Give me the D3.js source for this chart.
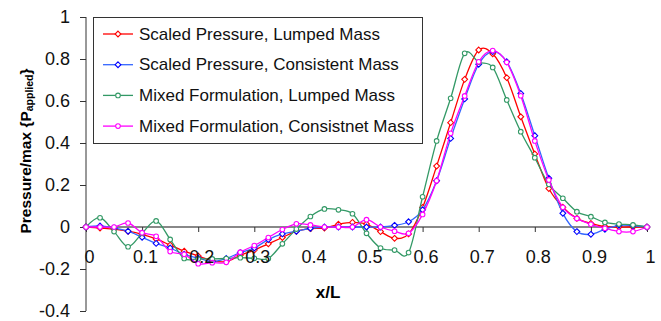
<!DOCTYPE html>
<html>
<head>
<meta charset="utf-8">
<script src="https://cdn.jsdelivr.net/npm/d3@7"></script>
<style>
  body { margin: 0; background: #fff; }
  svg { display: block; font-family: "Liberation Sans", Arial, Helvetica, sans-serif; }
</style>
</head>
<body>
<svg id="chart" width="661" height="321"></svg>
<script>
const xVals = [0, 0.025, 0.05, 0.075, 0.1, 0.125, 0.15, 0.175, 0.2, 0.225,
  0.25, 0.275, 0.3, 0.325, 0.35, 0.375, 0.4, 0.425, 0.45, 0.475,
  0.5, 0.525, 0.55, 0.575, 0.6, 0.625, 0.65, 0.675, 0.7, 0.725,
  0.75, 0.775, 0.8, 0.825, 0.85, 0.875, 0.9, 0.925, 0.95, 0.975, 1];

const scaledLumped = [0, -0.005, -0.01, -0.02, -0.035, -0.057, -0.086, -0.115, -0.138, -0.16,
  -0.165, -0.135, -0.11, -0.08, -0.05, -0.02, -0.008, -0.005, 0.013, 0.022,
  0.014, -0.022, -0.054, -0.033, 0.093, 0.29, 0.497, 0.703, 0.843, 0.825,
  0.711, 0.525, 0.348, 0.183, 0.094, 0.041, 0.017, 0.002, 0, 0, 0];

const scaledConsistent = [0, 0.005, -0.005, -0.02, -0.049, -0.078, -0.1, -0.13, -0.148, -0.165,
  -0.15, -0.122, -0.1, -0.06, -0.033, -0.02, -0.006, 0, 0, 0,
  0, 0, 0.008, 0.025, 0.082, 0.22, 0.422, 0.61, 0.775, 0.835,
  0.787, 0.636, 0.435, 0.232, 0.065, -0.022, -0.035, -0.011, 0.008, 0.006, 0];

const mixedLumped = [0, 0.044, -0.022, -0.094, -0.03, 0.029, -0.059, -0.15, -0.152, -0.152,
  -0.15, -0.146, -0.149, -0.15, -0.08, -0.01, 0.05, 0.086, 0.082, 0.063,
  -0.03, -0.1, -0.11, -0.122, 0.144, 0.41, 0.613, 0.827, 0.785, 0.76,
  0.605, 0.454, 0.33, 0.203, 0.137, 0.073, 0.049, 0.022, 0.014, 0.01, 0];

const mixedConsistent = [0, 0, 0, 0.019, -0.027, -0.044, -0.117, -0.13, -0.175, -0.17,
  -0.168, -0.12, -0.088, -0.05, -0.012, 0.015, 0.01, 0, 0, 0,
  0.035, 0, -0.02, -0.03, 0.06, 0.22, 0.446, 0.624, 0.787, 0.84,
  0.784, 0.625, 0.41, 0.224, 0.094, 0.041, 0.013, -0.006, -0.022, -0.022, 0];

const seriesNames = [
  "Scaled Pressure, Lumped Mass",
  "Scaled Pressure, Consistent Mass",
  "Mixed Formulation, Lumped Mass",
  "Mixed Formulation, Consistnet Mass",
];
const xTicks = [0, 0.1, 0.2, 0.3, 0.4, 0.5, 0.6, 0.7, 0.8, 0.9, 1];
const yTicks = [-0.4, -0.2, 0, 0.2, 0.4, 0.6, 0.8, 1];

const series = [
  { name: seriesNames[0], values: scaledLumped, line: "#ff0000", mark: "#ff0000", shape: "diamond" },
  { name: seriesNames[1], values: scaledConsistent, line: "#3366ff", mark: "#0000ff", shape: "diamond" },
  { name: seriesNames[2], values: mixedLumped, line: "#339966", mark: "#339966", shape: "circle" },
  { name: seriesNames[3], values: mixedConsistent, line: "#ff00ff", mark: "#ff00ff", shape: "circle" },
];

const svg = d3.select("#chart");

const x = d3.scaleLinear().domain([0, 1]).range([86, 647]);
const y = d3.scaleLinear().domain([-0.4, 1]).range([311, 17]);
const fmt = (d) => String(+d.toFixed(1));

// y axis
const yAxis = svg.append("g")
  .attr("transform", "translate(86,0)")
  .call(d3.axisLeft(y).tickValues(yTicks).tickSize(6).tickPadding(10).tickFormat(fmt));
yAxis.select(".domain").attr("stroke", "#333").attr("d", `M0,${y(-0.4)}V${y(1)}`);
yAxis.selectAll(".tick line").attr("stroke", "#333");
yAxis.selectAll("text").attr("font-size", 18).attr("fill", "#111");

// x axis line + ticks (under the curves)
const xAxis = svg.append("g")
  .attr("transform", `translate(0,${y(0)})`)
  .call(d3.axisBottom(x).tickValues(xTicks).tickSize(5).tickFormat(""));
xAxis.select(".domain").attr("stroke", "#888").attr("stroke-width", 2)
  .attr("d", `M${x(0)},0H${x(1)}`);
xAxis.selectAll(".tick line").attr("stroke", "#333");

// series
const line = d3.line()
  .curve(d3.curveCatmullRom.alpha(0))
  .x((d, i) => x(xVals[i]))
  .y((d) => y(d));

const diamond = (r) => `M0,${-r}L${r},0L0,${r}L${-r},0Z`;

series.forEach((s) => {
  const g = svg.append("g");
  g.append("path")
    .datum(s.values)
    .attr("d", line)
    .attr("fill", "none")
    .attr("stroke", s.line)
    .attr("stroke-width", 1.3);

  const pts = g.selectAll(".pt")
    .data(s.values)
    .join("g")
    .attr("transform", (d, i) => `translate(${x(xVals[i])},${y(d)})`);
  if (s.shape === "circle") {
    pts.append("circle").attr("r", 2.3);
  } else {
    pts.append("path").attr("d", diamond(2.9));
  }
  pts.selectAll("circle, path")
    .attr("fill", "#fff")
    .attr("stroke", s.mark)
    .attr("stroke-width", 1.1);
});

// x tick labels over the curves
const xLabels = svg.append("g")
  .attr("transform", `translate(0,${y(0)})`)
  .call(d3.axisBottom(x).tickValues(xTicks).tickSize(0).tickFormat(fmt));
xLabels.select(".domain").remove();
xLabels.selectAll("text")
  .attr("font-size", 18)
  .attr("fill", "#111")
  .attr("y", 30)
  .attr("dx", 3)
  .attr("dy", "0.35em");

// axis titles
svg.append("text")
  .attr("x", 328)
  .attr("y", 292)
  .attr("text-anchor", "middle")
  .attr("dominant-baseline", "central")
  .attr("font-size", 17)
  .attr("font-weight", "bold")
  .text("x/L");

const yTitle = svg.append("text")
  .attr("transform", "translate(25,151) rotate(-90)")
  .attr("text-anchor", "middle")
  .attr("dominant-baseline", "central")
  .attr("font-size", 15.5)
  .attr("font-weight", "bold");
yTitle.append("tspan").text("Pressure/max {P");
yTitle.append("tspan").attr("font-size", 10.5).attr("dy", 4).text("applied");
yTitle.append("tspan").attr("dy", -4).text("}");

// legend
const legend = svg.append("g");
legend.append("rect")
  .attr("x", 93.5)
  .attr("y", 17.5)
  .attr("width", 329)
  .attr("height", 126)
  .attr("fill", "#fff")
  .attr("stroke", "#333");

series.forEach((s, k) => {
  const ly = 34 + k * 30.7;
  const row = legend.append("g").attr("transform", `translate(0,${ly})`);
  row.append("line")
    .attr("x1", 103).attr("x2", 133)
    .attr("stroke", s.line).attr("stroke-width", 1.3);
  const m = row.append("g").attr("transform", "translate(118,0)");
  if (s.shape === "circle") m.append("circle").attr("r", 2.3);
  else m.append("path").attr("d", diamond(2.9));
  m.selectAll("*").attr("fill", "#fff").attr("stroke", s.mark).attr("stroke-width", 1.1);
  row.append("text")
    .attr("x", 139)
    .attr("dominant-baseline", "central")
    .attr("font-size", 17)
    .attr("fill", "#111")
    .text(s.name);
});
</script>
</body>
</html>
